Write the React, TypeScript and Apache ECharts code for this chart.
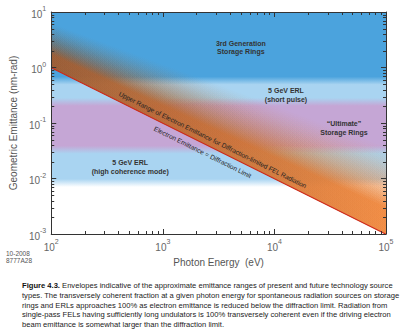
import React, { useEffect, useRef } from "react";
import * as echarts from "echarts";

// ---------- data ----------
const energyTicks = [100, 1000, 10000, 100000];
const emittanceTicks = [0.001, 0.01, 0.1, 1, 10];
const minorMultipliers = [2, 3, 4, 5, 6, 7, 8, 9];

const bandNames = [
  "3rd Generation\nStorage Rings",
  "5 GeV ERL\n(short pulse)",
  "\u201cUltimate\u201d\nStorage Rings",
  "5 GeV ERL\n(high coherence mode)",
];
const bandLow = [0.58, 0.24, 0.033, 0.0083];
const bandHigh = [10, 0.58, 0.24, 0.033];
const bandColors = ["#4ba3dd", "#a9d4f1", "#c5a6d5", "#a9d4f1"];
const bandLabelEnergy = [5000, 12700, 42000, 510];
const bandLabelEmittance = [2.3, 0.32, 0.081, 0.016];

const diffLimitEnergy = [100, 100000];
const diffLimitEmittance = [0.99, 0.00099];
const felUpperEmittance = [6.5, 0.04];

const diagLabels = [
  "Upper Range of Electron Emittance for Diffraction-limited FEL Radiation",
  "Electron Emittance = Diffraction Limit",
];
const diagLabelEnergy = [2800, 2280];
const diagLabelEmittance = [0.05, 0.03];

const captionLines = [
  "{b|Figure 4.3.} Envelopes indicative of the approximate emittance ranges of present and future technology source",
  "types. The transversely coherent fraction at a given photon energy for spontaneous radiation sources on storage",
  "rings and ERLs approaches 100% as electron emittance is reduced below the diffraction limit. Radiation from",
  "single-pass FELs having sufficiently long undulators is 100% transversely coherent even if the driving electron",
  "beam emittance is somewhat larger than the diffraction limit.",
];

const FONT = "'Liberation Sans', Arial, sans-serif";

function hexToRgb(h: string) {
  const n = parseInt(h.slice(1), 16);
  return [(n >> 16) & 255, (n >> 8) & 255, n & 255];
}
function mix(a: string, b: string, t: number) {
  const A = hexToRgb(a), B = hexToRgb(b);
  const c = A.map((v, i) => Math.round(v + (B[i] - v) * t));
  return `rgb(${c[0]},${c[1]},${c[2]})`;
}

const tickFmt = (v: number) => {
  const e = Math.round(Math.log10(v));
  return `{b|10}{s|${e}}`;
};
const tickRich = {
  b: { fontSize: 10, color: "#666", fontFamily: FONT, lineHeight: 14, verticalAlign: "bottom" },
  s: { fontSize: 7, color: "#666", fontFamily: FONT, lineHeight: 14, verticalAlign: "top", padding: [0, 0, 6, 0] },
};

export default function App() {
  const ref = useRef<HTMLDivElement>(null);
  useEffect(() => {
    document.body.style.margin = "0";
    const chart = echarts.init(ref.current!, null, { renderer: "svg" });
    const xMin = energyTicks[0], xMax = energyTicks[energyTicks.length - 1];
    const yMin = emittanceTicks[0], yMax = emittanceTicks[emittanceTicks.length - 1];

    const renderBands = (params: any, api: any) => {
      const p0 = api.coord([xMin, yMax]);
      const p1 = api.coord([xMax, yMin]);
      const H = p1[1] - p0[1];
      const off = (v: number) => (api.coord([xMin, v])[1] - p0[1]) / H;
      const t = 4 / H;
      const clamp = (x: number) => Math.min(1, Math.max(0, x));
      const stops: any[] = [{ offset: 0, color: bandColors[0] }];
      for (let i = 0; i < bandLow.length; i++) {
        const b = off(bandLow[i]);
        stops.push({ offset: clamp(b - t), color: bandColors[i] });
        stops.push({ offset: clamp(b + t), color: i + 1 < bandColors.length ? bandColors[i + 1] : "#ffffff" });
      }
      stops.push({ offset: 1, color: "#ffffff" });
      return {
        type: "rect",
        shape: { x: p0[0], y: p0[1], width: p1[0] - p0[0], height: H },
        style: { fill: new echarts.graphic.LinearGradient(0, 0, 0, 1, stops) },
        silent: true,
      };
    };

    const renderFel = (params: any, api: any) => {
      const lg = Math.log10;
      const N = 36;
      const profile = (f: number) =>
        f <= 0.3 ? 0.93 : 0.93 * Math.pow(Math.max(0, 1 - (f - 0.3) / 0.7), 1.3);
      const P: number[] = new Array(N + 1);
      P[N] = 1;
      for (let j = N - 1; j >= 0; j--) P[j] = Math.min(P[j + 1], 1 - profile((j + 0.5) / N));
      const interp = (i: number, f: number) =>
        Math.pow(10, lg(diffLimitEmittance[i]) * (1 - f) + lg(felUpperEmittance[i]) * f);
      const children: any[] = [];
      for (let j = N - 1; j >= 0; j--) {
        const alpha = 1 - P[j] / P[j + 1];
        if (alpha <= 0.0005) continue;
        const b = (j + 1) / N;
        const pts = [
          api.coord([diffLimitEnergy[0], interp(0, 0)]),
          api.coord([diffLimitEnergy[1], interp(1, 0)]),
          api.coord([diffLimitEnergy[1], interp(1, b)]),
          api.coord([diffLimitEnergy[0], interp(0, b)]),
        ];
        const tt = Math.min(1, (j / (N - 1)) * 1.4);
        const left = mix("#c8602a", "#7a5430", tt);
        const right = mix("#f47e2c", "#ec8c44", tt);
        children.push({
          type: "polygon",
          shape: { points: pts },
          style: {
            fill: new echarts.graphic.LinearGradient(0, 0, 1, 0, [
              { offset: 0, color: left },
              { offset: 1, color: right },
            ]),
            opacity: alpha,
          },
          silent: true,
        });
      }
      return { type: "group", children };
    };

    const renderLabels = (params: any, api: any) => {
      const children: any[] = [];
      for (let i = 0; i < bandNames.length; i++) {
        const p = api.coord([bandLabelEnergy[i], bandLabelEmittance[i]]);
        children.push({
          type: "text",
          x: p[0],
          y: p[1],
          style: {
            text: bandNames[i],
            fontSize: 7,
            fontWeight: "bold",
            fontFamily: FONT,
            fill: "#333",
            align: "center",
            verticalAlign: "middle",
            lineHeight: 8.5,
          },
          silent: true,
        });
      }
      const a = api.coord([diffLimitEnergy[0], diffLimitEmittance[0]]);
      const b = api.coord([diffLimitEnergy[1], diffLimitEmittance[1]]);
      const ang = Math.atan2(b[1] - a[1], b[0] - a[0]);
      for (let i = 0; i < diagLabels.length; i++) {
        const p = api.coord([diagLabelEnergy[i], diagLabelEmittance[i]]);
        children.push({
          type: "text",
          x: p[0],
          y: p[1],
          rotation: -ang,
          style: {
            text: diagLabels[i],
            fontSize: 6.6,
            fontFamily: FONT,
            fill: "#222",
            align: "center",
            verticalAlign: "middle",
          },
          silent: true,
        });
      }
      return { type: "group", children };
    };

    const renderMinor = (params: any, api: any) => {
      const children: any[] = [];
      const tl = api.coord([xMin, yMax]);
      const br = api.coord([xMax, yMin]);
      const L = 3;
      const st = { stroke: "#333", lineWidth: 1 };
      for (let k = 0; k < energyTicks.length - 1; k++) {
        for (const m of minorMultipliers) {
          const x = Math.round(api.coord([energyTicks[k] * m, yMin])[0]) + 0.5;
          children.push({ type: "line", shape: { x1: x, y1: br[1], x2: x, y2: br[1] - L }, style: st, silent: true });
          children.push({ type: "line", shape: { x1: x, y1: tl[1], x2: x, y2: tl[1] + L }, style: st, silent: true });
        }
      }
      for (let k = 0; k < emittanceTicks.length - 1; k++) {
        for (const m of minorMultipliers) {
          const y = Math.round(api.coord([xMin, emittanceTicks[k] * m])[1]) + 0.5;
          children.push({ type: "line", shape: { x1: tl[0], y1: y, x2: tl[0] + L, y2: y }, style: st, silent: true });
          children.push({ type: "line", shape: { x1: br[0], y1: y, x2: br[0] - L, y2: y }, style: st, silent: true });
        }
      }
      return { type: "group", children };
    };

    const axisCommon = {
      type: "log",
      logBase: 10,
      z: 10,
      splitLine: { show: false },
      axisLine: { show: true, onZero: false, lineStyle: { color: "#333", width: 1 } },
      axisTick: { show: true, inside: true, length: 5, lineStyle: { color: "#333" } },
    };

    const option: any = {
      animation: false,
      grid: { left: 41, right: 14, top: 12, bottom: 96, containLabel: false },
      xAxis: [
        {
          ...axisCommon,
          min: xMin,
          max: xMax,
          position: "bottom",
          name: "Photon Energy  (eV)",
          nameLocation: "middle",
          nameGap: 23,
          nameTextStyle: { fontSize: 10, color: "#555", fontFamily: FONT },
          axisLabel: { formatter: tickFmt, rich: tickRich, margin: 4 },
        },
        { ...axisCommon, min: xMin, max: xMax, position: "top", axisLabel: { show: false } },
      ],
      yAxis: [
        {
          ...axisCommon,
          min: yMin,
          max: yMax,
          position: "left",
          name: "Geometric Emittance (nm-rad)",
          nameLocation: "middle",
          nameGap: 27,
          nameTextStyle: { fontSize: 10, color: "#555", fontFamily: FONT },
          axisLabel: { formatter: tickFmt, rich: tickRich, margin: 5 },
        },
        { ...axisCommon, min: yMin, max: yMax, position: "right", axisLabel: { show: false } },
      ],
      series: [
        { type: "custom", renderItem: renderBands, data: [[xMin, yMax]], z: 1, silent: true },
        { type: "custom", renderItem: renderFel, data: [[xMin, yMax]], z: 2, silent: true },
        {
          type: "line",
          data: diffLimitEnergy.map((e, i) => [e, diffLimitEmittance[i]]),
          symbol: "none",
          lineStyle: { color: "#cc2a1c", width: 1.1 },
          z: 3,
          silent: true,
        },
        { type: "custom", renderItem: renderLabels, data: [[xMin, yMax]], z: 4, silent: true },
        { type: "custom", renderItem: renderMinor, data: [[xMin, yMax]], z: 5, silent: true },
      ],
      graphic: [
        {
          type: "text",
          left: 6,
          top: 250,
          style: { text: "10-2008\n8777A28", fontSize: 6.5, lineHeight: 7, fill: "#555", fontFamily: FONT },
        },
        {
          type: "text",
          left: 22,
          top: 281,
          style: {
            text: captionLines.join("\n"),
            fontSize: 7.6,
            lineHeight: 9.6,
            fill: "#222",
            fontFamily: FONT,
            rich: {
              b: { fontSize: 7.6, fontWeight: "bold", fill: "#111", fontFamily: FONT, lineHeight: 9.6 },
            },
          },
        },
      ],
    };
    chart.setOption(option);
    return () => chart.dispose();
  }, []);
  return (
    <div
      ref={ref}
      style={{ width: 400, height: 330, position: "absolute", left: 0, top: 0, background: "#fff" }}
    />
  );
}
